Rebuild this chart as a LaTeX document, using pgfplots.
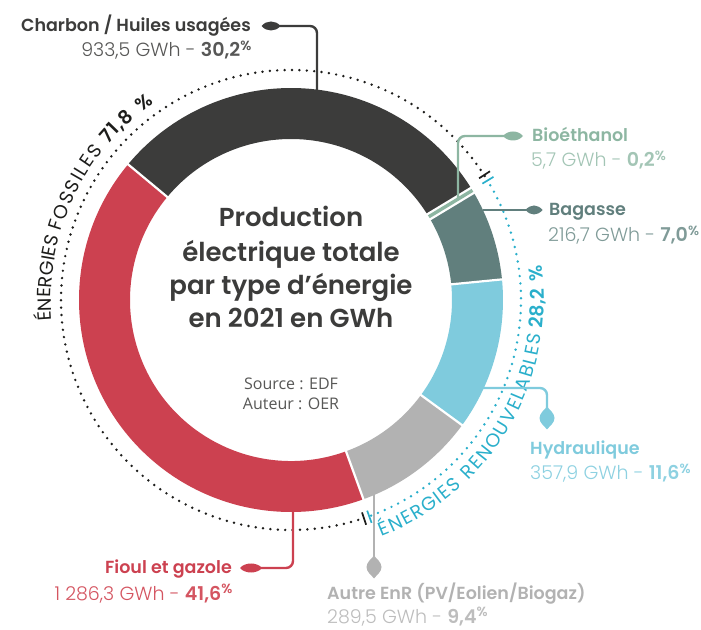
\documentclass[border=0pt]{standalone}
\usepackage{pgfplots}
\pgfplotsset{compat=1.18}
\usepackage{pgfplotstable}
\usepackage{fontspec}
\usetikzlibrary{calc,decorations.text}
\setmainfont{Poppins}
\newfontfamily\popR{Poppins}
\newfontfamily\popL{Poppins Light}
\newfontfamily\popM{Poppins Medium}
\newfontfamily\popS{Poppins SemiBold}
\newfontfamily\osans{Open Sans}

\definecolor{seg0}{HTML}{3C3C3B}
\definecolor{seg1}{HTML}{CC4150}
\definecolor{seg2}{HTML}{B2B2B2}
\definecolor{seg3}{HTML}{7FCBDD}
\definecolor{seg4}{HTML}{617F7D}
\definecolor{seg5}{HTML}{8DB6A2}
\definecolor{renblue}{HTML}{2AAFCB}
\definecolor{fosblack}{HTML}{1D1D1B}
\definecolor{val0}{HTML}{575756}
\definecolor{val1}{HTML}{D45561}
\definecolor{val2}{HTML}{BDBDBD}
\definecolor{val3}{HTML}{8ED1E1}
\definecolor{val4}{HTML}{809B98}
\definecolor{val5}{HTML}{A3C5B5}

% energy sources, counter-clockwise from the bioethanol boundary
\pgfplotstableread{
name        gwh     pct
Charbon     933.5   30.2
Fioul       1286.3  41.6
Autre       289.5   9.4
Hydraulique 357.9   11.6
Bagasse     216.7   7.0
Bioethanol  5.7     0.2
}\energy

\newcommand\lab[1]{\fontsize{17.5}{20}\selectfont#1}
\newcommand\val[1]{\fontsize{19}{22}\selectfont#1}
\newcommand\leafh[4]{% x y color halfwidth
  \fill[#3] ($(axis cs:#1,#2)+(-#4pt,0pt)$) .. controls +(5pt,6pt) and +(-5pt,6pt) .. ($(axis cs:#1,#2)+(#4pt,0pt)$)
     .. controls +(-5pt,-6pt) and +(5pt,-6pt) .. cycle;}
\newcommand\leafv[3]{% x y color
  \fill[#3] ($(axis cs:#1,#2)+(0pt,11.5pt)$) .. controls +(2pt,-3pt) and +(0pt,5pt) .. ($(axis cs:#1,#2)+(7.5pt,0pt)$)
     .. controls +(0pt,-5pt) and +(3pt,4pt) .. ($(axis cs:#1,#2)+(0pt,-11.5pt)$)
     .. controls +(-3pt,4pt) and +(0pt,-5pt) .. ($(axis cs:#1,#2)+(-7.5pt,0pt)$)
     .. controls +(0pt,5pt) and +(-2pt,-3pt) .. cycle;}
% one word along an arc round the centre: font, colour, radius, from, to, align, text
\newcommand\cword[7]{%
  \path[decorate, decoration={text along path, text align=#6,
    text={|#1\fontsize{19}{22}\selectfont\color{#2}|#7}}]
    ($(C)+(#4:#3pt)$) arc[start angle=#4, end angle=#5, radius=#3pt];}

\begin{document}
\begin{tikzpicture}
\begin{axis}[
    name=ax,
    x=1pt, y=1pt,
    xmin=0, xmax=701, ymin=0, ymax=629,
    scale only axis,
    hide axis,
    clip=false
  ]
\coordinate (C) at (axis cs:291,329);

% ring segments
\def\astart{31.5}
\pgfplotsforeachungrouped \i in {0,...,5}{%
  \pgfplotstablegetelem{\i}{pct}\of\energy
  \pgfmathsetmacro\aend{\astart+3.6*\pgfplotsretval}
  \edef\temp{\noexpand\fill[seg\i] ($(C)+(\astart:212pt)$) arc[start angle=\astart, end angle=\aend, radius=212pt]
     -- ($(C)+(\aend:161pt)$) arc[start angle=\aend, end angle=\astart, radius=161pt] -- cycle;}
  \temp
  \let\astart\aend
}
% white separators
\def\astart{31.5}
\pgfplotsforeachungrouped \i in {0,...,4}{%
  \pgfplotstablegetelem{\i}{pct}\of\energy
  \pgfmathsetmacro\aend{\astart+3.6*\pgfplotsretval}
  \edef\temp{\noexpand\draw[white, line width=2.2pt] ($(C)+(\aend:158pt)$) -- ($(C)+(\aend:215pt)$);}
  \temp
  \let\astart\aend
}
% the thin bioethanol sliver, widened so that it shows
\pgfmathsetmacro\bmid{\astart+1.8*0.2}
\draw[white, line width=8pt] ($(C)+(\bmid:158pt)$) -- ($(C)+(\bmid:215pt)$);
\draw[seg5, line width=3.4pt] ($(C)+(\bmid:161pt)$) -- ($(C)+(\bmid:212pt)$);

% dotted group rings: fossil 71.8 %, renewable 28.2 %
\pgfmathsetmacro\fend{31.5+3.6*71.8}
\draw[fosblack, line width=2.7pt, line cap=round, dash pattern=on 0pt off 7.4pt]
  ($(C)+(32.6:230pt)$) arc[start angle=32.6, end angle=\fend-1.6, radius=230pt];
\draw[renblue, line width=2.7pt, line cap=round, dash pattern=on 0pt off 7.4pt]
  ($(C)+(\fend-360+0.4:230pt)$) arc[start angle=\fend-360+0.4, end angle=30.5, radius=230pt];
\draw[fosblack, line width=1.7pt] ($(C)+(32.9:224pt)$) -- ($(C)+(32.9:237pt)$);
\draw[fosblack, line width=1.7pt] ($(C)+(\fend-1.5:224pt)$) -- ($(C)+(\fend-1.5:237pt)$);
\draw[renblue, line width=1.7pt] ($(C)+(31.3:224pt)$) -- ($(C)+(31.3:237pt)$);
\draw[renblue, line width=1.7pt] ($(C)+(\fend-0.1:224pt)$) -- ($(C)+(\fend-0.1:237pt)$);

% curved group titles, word by word
\cword{\popR}{fosblack}{240}{185}{165.5}{fit to path}{ÉNERGIES}
\cword{\popR}{fosblack}{240}{163.5}{141.5}{fit to path}{FOSSILES}
\cword{\popS}{fosblack}{240}{139.5}{130.8}{fit to path}{71,8}
\cword{\popS}{fosblack}{240}{129.8}{123.5}{center}{{\%}}
\cword{\popR}{renblue}{253}{-69}{-47.5}{fit to path}{ÉNERGIES}
\cword{\popR}{renblue}{253}{-45.5}{-7.8}{fit to path}{RENOUVELABLES}
\cword{\popS}{renblue}{253}{-6.4}{2.6}{fit to path}{28,2}
\cword{\popS}{renblue}{253}{3.6}{9}{center}{{\%}}

% centre
\node[anchor=base, inner sep=0, text=seg0, font=\popS\fontsize{26}{30}\selectfont] at (axis cs:291,402) {Production};
\node[anchor=base, inner sep=0, text=seg0, font=\popS\fontsize{26}{30}\selectfont] at (axis cs:291,367) {électrique totale};
\node[anchor=base, inner sep=0, text=seg0, font=\popS\fontsize{26}{30}\selectfont] at (axis cs:291,334) {par type d’énergie};
\node[anchor=base, inner sep=0, text=seg0, font=\popS\fontsize{26}{30}\selectfont] at (axis cs:291,301) {en 2021 en GWh};
\node[anchor=base, inner sep=0, text=val0, font=\osans\fontsize{16}{18}\selectfont] at (axis cs:291,239) {Source : EDF};
\node[anchor=base, inner sep=0, text=val0, font=\osans\fontsize{16}{18}\selectfont] at (axis cs:291,219) {Auteur : OER};

% connectors and markers
\draw[seg0, line width=2.4pt, rounded corners=7pt] (axis cs:276,603) -- (axis cs:317,603) -- (axis cs:317,538);
\leafh{271}{603}{seg0}{9.5}
\draw[seg5, line width=2.4pt, rounded corners=7pt] (axis cs:508,493) -- (axis cs:458,493) -- (axis cs:458,431);
\leafh{513}{493}{seg5}{10}
\draw[seg4, line width=2.4pt] (axis cs:483,419) -- (axis cs:530,419);
\leafh{534}{419}{seg4}{8.5}
\draw[seg3, line width=2.4pt, rounded corners=7pt] (axis cs:483,241) -- (axis cs:547,241) -- (axis cs:547,220);
\leafv{547}{211}{seg3}
\draw[seg2, line width=2.4pt] (axis cs:374,134) -- (axis cs:374,70);
\leafv{374}{62}{seg2}
\draw[seg1, line width=2.4pt, rounded corners=7pt] (axis cs:293,118) -- (axis cs:293,61) -- (axis cs:255,61);
\leafh{251}{61}{seg1}{11}

% labels
\node[anchor=base east, inner sep=0, text=seg0, font=\popS\lab{}] at (axis cs:251,597) {Charbon / Huiles usagées};
\node[anchor=base east, inner sep=0, text=val0, font=\popL\val{}] at (axis cs:252,572) {933,5 GWh - {\popS 30,2}\textsuperscript{\popS\%}};
\node[anchor=base west, inner sep=0, text=seg5, font=\popS\lab{}] at (axis cs:532,487) {Bioéthanol};
\node[anchor=base west, inner sep=0, text=val5, font=\popL\val{}] at (axis cs:531,462) {5,7 GWh - {\popS 0,2}\textsuperscript{\popS\%}};
\node[anchor=base west, inner sep=0, text=seg4, font=\popS\lab{}] at (axis cs:549,413) {Bagasse};
\node[anchor=base west, inner sep=0, text=val4, font=\popL\val{}] at (axis cs:548,387) {216,7 GWh - {\popS 7,0}\textsuperscript{\popS\%}};
\node[anchor=base west, inner sep=0, text=seg3, font=\popS\lab{}] at (axis cs:530,174) {Hydraulique};
\node[anchor=base west, inner sep=0, text=val3, font=\popL\val{}] at (axis cs:530,149) {357,9 GWh - {\popS 11,6}\textsuperscript{\popS\%}};
\node[anchor=base west, inner sep=0, text=seg2, font=\popS\lab{}] at (axis cs:327,30) {Autre EnR (PV/Eolien/Biogaz)};
\node[anchor=base west, inner sep=0, text=val2, font=\popL\val{}] at (axis cs:327,6) {289,5 GWh - {\popS 9,4}\textsuperscript{\popS\%}};
\node[anchor=base east, inner sep=0, text=seg1, font=\popS\lab{}] at (axis cs:232,56) {Fioul et gazole};
\node[anchor=base east, inner sep=0, text=val1, font=\popL\val{}] at (axis cs:233,29) {1 286,3 GWh - {\popS 41,6}\textsuperscript{\popS\%}};
\end{axis}
\pgfresetboundingbox
\path[use as bounding box] (ax.south west) rectangle (ax.north east);
\end{tikzpicture}
\end{document}
